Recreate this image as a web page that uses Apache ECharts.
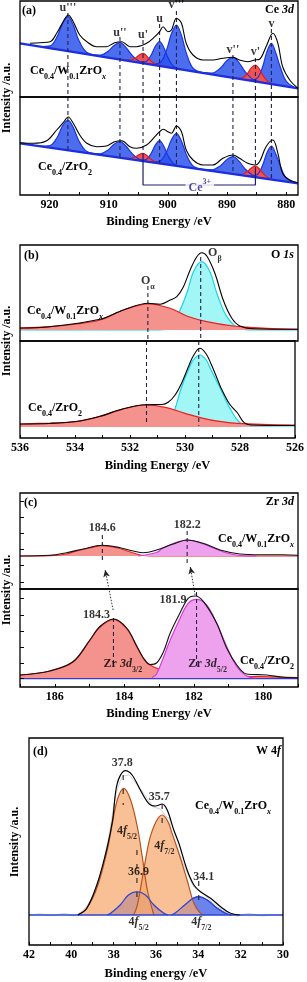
<!DOCTYPE html>
<html><head><meta charset="utf-8">
<script src="https://cdn.jsdelivr.net/npm/echarts@6/dist/echarts.min.js"></script>
<style>html,body{margin:0;padding:0;background:#fff}#c{width:307px;height:982px}</style>
</head><body><div id="c"></div>
<script>
// ---------------- DATA ----------------
// Panel (a) Ce 3d : peak positions / names
const aPeakE = [916.9, 908.1, 904.2, 901.4, 898.55, 889.0, 885.2, 882.5];
const aPeakNames = ["u'''", "u''", "u'", "u", "v'''", "v''", "v'", "v"];
const aPeakLabelI = [89, 64, 62, 78, 92, 47, 45, 73];
const aDashTopStart = [84, 60, 57, 73, 86, 42, 39, 68];
const aDashBotEnd = [44.8, 37.3, 42, 31.6, 29.2, 21.1, 26, 15.5];
const aTicks = [880, 885, 890, 895, 900, 905, 910, 915, 920];
const aLabels = [880, 890, 900, 910, 920];
// top sample Ce0.4/W0.1ZrOx
const aTopBase = [[925, 53.7], [878, 8.7]];
const aTopEnv = [[923.3,53.7],[921.6,54.3],[919.9,55.3],[918.8,63.7],[917.7,75.3],[916.85,82],[916.0,75.3],[914.9,62],[913.7,55.3],[912.05,50.3],[910.4,50.3],[909.0,54.3],[907.8,55.3],[906.4,50.3],[905.3,50.3],[903.6,53.7],[902.2,60.3],[901.4,65.3],[900.8,70.3],[900.0,65.3],[899.4,67],[898.55,78.7],[897.7,73.7],[896.9,53.7],[895.75,42],[894.05,37],[892.4,37],[890.7,38.7],[889.0,39.7],[887.9,37],[886.5,35.3],[885.3,37],[884.5,37.7],[883.4,50.3],[882.25,63.7],[881.4,53.7],[880.6,30.3],[879.4,17],[878,8.7]];
const aTopU3 = [[921.7,50.5],[919.9,51.2],[918.7,60.7],[917.8,73.6],[916.9,80.3],[916.0,71.9],[915.1,57.3],[913.9,45.5],[912.1,41.3]];
const aTopU2 = [[913.4,42.6],[911.4,41.9],[910.1,45.8],[909.1,51.6],[908.1,54.3],[907.1,49.65],[906.1,42.0],[904.8,35.55],[902.8,32.4]];
const aTopU1 = [[909,38.4],[907.7,37.5],[906.4,36.9],[905.5,38.8],[904.85,42.1],[904.2,43.7],[903.55,40.85],[902.9,36.3],[902.0,32.7],[900.7,30.8],[899.0,28.8]];
const aTopU = [[905.2,34.7],[903.8,35.1],[902.85,41.7],[902.12,50.7],[901.4,55.3],[900.68,49.3],[899.95,38.9],[899.0,30.5],[897.6,27.5]];
const aTopV3 = [[903.05,32.7],[901.35,34.15],[900.25,46.6],[899.4,63.2],[898.55,72],[897.7,61.55],[896.85,43.35],[895.75,28.8],[894.05,24.1]];
const aTopV2 = [[894.6,24.6],[892.5,24.0],[891.1,29.0],[890.05,36.2],[889.0,39.7],[887.95,34.2],[886.9,25.0],[885.5,17.3],[883.4,13.9]];
const aTopV1 = [[888.9,19.1],[887.5,18.9],[886.6,23.1],[885.9,29.1],[885.2,32.0],[884.5,27.7],[883.8,20.45],[882.9,14.5],[881.5,12.05]];
const aTopV = [[886.5,16.8],[885.0,18.2],[884.0,29.95],[883.25,45.4],[882.5,53.7],[881.75,44.0],[881.0,30],[880.0,16],[878.5,9.2]];
// bottom sample Ce0.4/ZrO2
const aBotBase = [[925, 51.7], [878, 11.7]];
const aBotEnv = [[925,52.3],[922.75,51.7],[920.5,54.3],[918.8,65],[917.7,72.3],[916.85,78],[916.0,71.7],[914.9,60],[913.7,51.7],[912.05,48.3],[910.4,49],[909.0,53.3],[907.8,54.3],[906.4,48.3],[905.3,46.7],[903.6,50],[902.2,58.3],[901.4,63.3],[900.8,65.7],[900.0,63.3],[899.4,61.7],[898.55,69],[897.7,63.3],[896.9,45],[895.75,35],[894.05,30],[892.4,30],[890.7,36.7],[889.0,40],[887.9,36.7],[886.5,31.7],[885.3,30],[884.5,33.3],[883.4,48.3],[882.25,55],[881.4,41.7],[880.6,21.7],[879.4,15],[878,12.3]];
const aBotU3 = [[921.7,48.9],[919.9,49.5],[918.7,57.8],[917.8,69.2],[916.9,75.0],[916.0,67.6],[915.1,54.8],[913.9,44.35],[912.1,40.7]];
const aBotU2 = [[913.4,41.8],[911.4,41.2],[910.1,45.1],[909.1,50.7],[908.1,53.3],[907.1,49.0],[906.1,41.7],[904.8,35.6],[902.8,32.8]];
const aBotU1 = [[909,38.1],[907.7,37.3],[906.4,36.7],[905.5,38.0],[904.85,40.55],[904.2,41.7],[903.55,39.45],[902.9,35.8],[902.0,32.9],[900.7,31.3],[899.0,29.6]];
const aBotU = [[905.2,34.85],[903.8,35.25],[902.85,41.45],[902.12,49.9],[901.4,54.3],[900.68,48.7],[899.95,39.0],[899.0,31.2],[897.6,28.4]];
const aBotV3 = [[903.05,33.0],[901.35,33.9],[900.25,43.0],[899.4,55.25],[898.55,61.7],[897.7,53.85],[896.85,40.1],[895.75,29.1],[894.05,25.35]];
const aBotV2 = [[894.6,25.8],[892.5,25.2],[891.1,29.35],[890.05,35.35],[889.0,38.3],[887.95,33.55],[886.9,25.8],[885.5,19.3],[883.4,16.3]];
const aBotV1 = [[888.9,21.0],[887.5,20.6],[886.6,23.3],[885.9,27.1],[885.2,29.0],[884.5,25.95],[883.8,20.95],[882.9,16.65],[881.5,14.7]];
const aBotV = [[886.5,18.95],[885.0,20.0],[884.0,29.5],[883.25,42.3],[882.5,49.0],[881.75,41.0],[881.0,29.35],[880.0,16.8],[878.5,12.1]];
const aCe3Bracket = [[904.2,42],[904.2,10],[885.2,10],[885.2,26]];
const aCe3Label = [894.6, 10];

// Panel (b) O 1s
const bTicks = [526,527,528,529,530,531,532,533,534,535,536];
const bLabels = [526,528,530,532,534,536];
const bPeakE = [531.4, 529.5];
const bDashTopStart = [55, 84];
const bDashBotEnd = [14, 12];
const bOaTop = [[536,13],[534.92,14.3],[533.96,17],[533.12,21],[532.28,31],[531.38,37],[530.6,32.7],[530.0,25],[529.28,19.3],[528.33,15],[527.13,12.7],[526,11.7]];
const bObTop = [[536,11],[531.5,11],[530.72,11.5],[530.36,24.3],[530.0,47.7],[529.76,69.3],[529.46,79.3],[529.17,69.3],[528.92,47.7],[528.56,24.3],[528.09,12.3],[527.6,11],[526,11]];
const bEnvTop = [[536,13],[534.92,14.3],[533.12,21.7],[532.28,31],[531.38,37.7],[530.96,36.7],[530.6,41],[530.36,44.3],[530.12,54.3],[529.88,71],[529.64,84.3],[529.46,88.3],[529.28,85],[528.99,67.7],[528.69,41],[528.38,22.7],[528.09,15],[527.6,12.3],[526,11.7]];
const bOaBot = [[536,14],[534.92,15],[533.96,16.3],[533.12,21.3],[532.28,28.7],[531.44,33],[530.72,30.7],[530.0,24.7],[529.17,18.7],[528.09,14.7],[526,13]];
const bObBot = [[536,12],[531.5,12],[530.84,12.5],[530.48,21.3],[530.12,51.3],[529.88,68],[529.7,78],[529.46,83],[529.23,78],[529.05,68],[528.69,48],[528.33,28],[527.97,14.7],[527.49,12],[526,12]];
const bEnvBot = [[536,14],[534.92,14.5],[533.96,16.5],[533.12,21.5],[532.28,29],[531.44,33.3],[530.84,33.5],[530.6,36],[530.36,43],[530.12,55],[529.88,71],[529.7,82],[529.46,89.7],[529.23,84],[529.05,74],[528.81,58],[528.69,50],[528.38,34],[528.09,25],[527.85,15.3],[527.6,13],[526,12.5]];

// Panel (c) Zr 3d
const cTicks = [179,180,181,182,183,184,185,186,187];
const cLabels = [180,182,184,186];
const cTopYTicks = [7,24,40,56,72,88];
const cBotYTicks = [9,24,40,56,72,89];
const cRedTop = [[187,33],[186.14,33.3],[185.66,35],[185.37,38.2],[185.0,41],[184.63,43.3],[184.25,41.5],[183.93,38.2],[183.74,36],[183.45,33.5],[183.0,33],[179,33]];
const cMagTop = [[183.6,33],[183.07,36.5],[182.88,41],[182.59,45.5],[182.19,49],[181.8,46],[181.44,41],[181.1,36.5],[180.67,33.5],[180.2,33]];
const cEnvTop = [[187,33],[186.14,33.7],[185.66,36.3],[185.18,40],[184.63,43.7],[184.12,41.3],[183.74,38],[183.45,36.3],[183.07,39],[182.59,45],[182.19,49],[181.73,45.7],[181.24,39],[180.67,35],[180.09,34.3],[179.42,34.3],[179,33.7]];
const cRedBot = [[187,12],[186.14,16],[185.47,25],[184.99,46.7],[184.7,60],[184.31,67.7],[183.93,58.3],[183.64,40.3],[183.45,28.7],[183.26,22],[182.97,17.7],[182.59,15.3],[181.82,12.7],[180.38,10.7],[179,9.5]];
const cMagBot = [[183.2,9.5],[183.07,13],[182.68,46.7],[182.4,68.3],[182.16,83.7],[181.92,87.7],[181.63,82],[181.34,63.7],[181.05,40.3],[180.76,20.3],[180.48,11],[180.2,9]];
const cEnvBot = [[187,12],[186.14,16],[185.47,25.5],[184.99,47],[184.7,60.5],[184.31,68],[183.93,59],[183.64,41],[183.45,29],[183.26,22.5],[183.07,24],[182.87,35.3],[182.68,53.7],[182.4,73.7],[182.16,88.7],[181.96,91],[181.72,85.3],[181.34,63.7],[181.05,38.7],[180.76,22],[180.48,13],[179.9,12],[179.42,9.7],[179,9.3]];
const cBotBase = [[187,8.3],[179,8.3]];
const cTopDash = [[184.63, 54, 26], [182.19, 58, 26]];
const cBotDash = [[184.31, 69, 20], [181.92, 95, 20]];
const cArrow1 = [[184.32, -21], [184.55, 19]];
const cArrow2 = [[181.96, -6], [182.1, 22]];

// Panel (d) W 4f
const dTicks = [30,31,32,33,34,35,36,37,38,39,40,41,42];
const dLabels = [30,32,34,36,38,40,42];
const dBase = [[42,30],[30,30]];
const dOr52 = [[39.7,30],[39.27,36.7],[38.77,58.3],[38.3,95],[38.1,117],[37.83,145],[37.52,156.7],[37.2,145],[36.88,118],[36.65,88.3],[36.41,55],[36.1,30]];
const dOr72 = [[37.06,30],[36.9,38.3],[36.66,65],[36.44,91.7],[36.27,108.3],[35.98,124],[35.71,130],[35.45,124],[35.24,111.7],[34.92,91.7],[34.53,65],[34.21,41.7],[33.9,31.7],[33.7,30]];
const dBl52 = [[38.3,30],[38.14,31.7],[37.69,40],[37.3,50],[36.9,53.3],[36.5,50],[36.1,40],[35.63,31.7],[35.45,30]];
const dBl72 = [[35.27,30],[35.11,31.7],[34.64,40],[34.25,46.7],[34.0,48.3],[33.58,45],[33.11,36.7],[32.64,31],[32.43,30]];
const dEnv = [[39.69,30],[39.27,36.7],[38.77,61.7],[38.3,98.3],[38.05,125],[37.83,161.7],[37.45,174.3],[37.13,170],[36.74,155],[36.35,141.7],[36.03,139],[35.71,141],[35.47,135],[35.16,115],[34.92,101.7],[34.53,75],[34.21,60],[33.9,53.3],[33.42,46.7],[32.95,38.3],[32.48,31.7],[32.05,30]];
const dRaw = [[42,30],[41.5,31],[41.0,29.5],[40.3,31.5],[39.9,29],[39.55,33],[39.3,38],[38.9,52],[38.5,80],[38.2,112],[37.9,150],[37.6,168],[37.3,170],[37.0,163],[36.7,155],[36.4,146],[36.1,138],[35.8,136],[35.5,128],[35.35,126],[35.3,105],[35.0,96],[34.6,76],[34.2,58],[33.8,52],[33.4,44],[33.0,37],[32.6,32],[32.2,29],[31.6,31.5],[31.0,29],[30.4,30.5],[30,30]];
const dMarks = [[37.55,170,140],[35.71,141,120],[36.9,95,40],[33.98,64,36]];

// ---------------- STYLE / LAYOUT ----------------
const SERIF = "'Liberation Serif','Times New Roman',serif";
function st(o){ return Object.assign({fontFamily:SERIF, fontWeight:'bold', fontSize:12, color:'#000', fill:'#000', lineHeight:14, verticalAlign:'top'}, o); }
const rich = {
  b: st({}), i: st({fontStyle:'italic'}),
  s: st({fontSize:8, lineHeight:8, padding:[8,0,0,0]}),
  si: st({fontSize:8, lineHeight:8, padding:[8,0,0,0], fontStyle:'italic'}),
  bb: st({padding:[4,0,0,0]}),
  sup: st({fontSize:8, lineHeight:8}),
  cb: st({padding:[4,0,0,0], color:'#1c1c8c', fill:'#1c1c8c', fontSize:12}),
  csup: st({fontSize:8, lineHeight:8, color:'#1c1c8c', fill:'#1c1c8c'})
};
const sampleW = '{b|Ce}{s|0.4}{b|/W}{s|0.1}{b|ZrO}{si|x}';
const sampleZ = '{b|Ce}{s|0.4}{b|/ZrO}{s|2}';

const grids = [
  {left:20, top:1, width:278, height:96},
  {left:20, top:97, width:278, height:98},
  {left:20, top:245, width:278, height:96},
  {left:20, top:341, width:278, height:97},
  {left:20, top:493, width:278, height:96},
  {left:20, top:589, width:278, height:98},
  {left:29, top:738, width:254, height:207}
];
const xCfg = [
  {min:878, max:925}, {min:878, max:925, ticks:aTicks, labels:aLabels, name:'Binding Energy /eV', gap:20},
  {min:526, max:536}, {min:526, max:536, ticks:bTicks, labels:bLabels, name:'Binding Energy /eV', gap:21},
  {min:179, max:187}, {min:179, max:187, ticks:cTicks, labels:cLabels, name:'Binding Energy /eV', gap:20},
  {min:30, max:42, ticks:dTicks, labels:dLabels, name:'Binding energy /eV', gap:22}
];
const yTicksCfg = [null, null, null, null, cTopYTicks, cBotYTicks, null];

const xAxis = xCfg.map((c, i) => ({
  type:'value', gridIndex:i, inverse:true, min:c.min, max:c.max, z:10,
  axisLine:{show:false}, splitLine:{show:false},
  axisTick: c.ticks ? {show:true, inside:true, length:3, customValues:c.ticks, lineStyle:{color:'#000', width:1}} : {show:false},
  axisLabel: c.labels ? {show:true, customValues:c.labels, margin:4, fontFamily:SERIF, fontWeight:'bold', fontSize:12, color:'#000'} : {show:false},
  name: c.name || '', nameLocation:'middle', nameGap:c.gap || 0,
  nameTextStyle:{fontFamily:SERIF, fontWeight:'bold', fontSize:12.5, color:'#000'}
}));
const yAxis = grids.map((g, i) => ({
  type:'value', gridIndex:i, min:0, max:g.height, z:10,
  axisLine:{show:false}, splitLine:{show:false}, axisLabel:{show:false},
  axisTick: yTicksCfg[i] ? {show:true, inside:true, length:4, customValues:yTicksCfg[i], lineStyle:{color:'#000'}} : {show:false}
}));

function line(gi, data, color, width, extra){
  return Object.assign({type:'line', xAxisIndex:gi, yAxisIndex:gi, data:data, symbol:'none', smooth:0.35,
    silent:true, animation:false, lineStyle:{color:color, width:width}, z:6}, extra || {});
}
function area(gi, data, lc, fill, origin, z){
  return line(gi, data, lc, 1.2, {areaStyle:{color:fill, opacity:1, origin:origin}, z:z});
}
function dash(gi, e, y1, y2, color, type, z){
  return line(gi, [[e,y1],[e,y2]], color || '#22224a', 1.1, {smooth:false, lineStyle:{color:color || '#22224a', width:1.1, type:type || [4,3]}, z:z || 5});
}
function labels(gi, items){
  return {type:'scatter', xAxisIndex:gi, yAxisIndex:gi, symbolSize:1, itemStyle:{color:'rgba(0,0,0,0)'}, silent:true, animation:false, z:8,
    data: items.map(t => ({value:[t[0], t[1]], label:Object.assign({show:true, formatter:t[2], position:'inside', align:'center', verticalAlign:'middle',
      rich:rich, fontFamily:SERIF, fontWeight:'bold', fontSize:12, color:'#000'}, t[3] || {})}))};
}

const BLUE_F = 'rgba(45,85,235,0.85)', BLUE_L = '#1a35e0';
const RED_F = '#f05252', RED_L = '#e01c1c';
const BASE_B = '#1b2fe0';
const SALMON_F = '#f4928e', SALMON_L = '#ee1e1e';
const CYAN_F = '#a2f6f6', CYAN_L = '#14d6e6';
const MAG_F = '#eea2ee', MAG_L = '#d43cd4';

const series = [];
// ---- panel (a)
[[0, [aTopU3,aTopU2,aTopU,aTopV3,aTopV2,aTopV], [aTopU1,aTopV1], aTopBase, aTopEnv],
 [1, [aBotU3,aBotU2,aBotU,aBotV3,aBotV2,aBotV], [aBotU1,aBotV1], aBotBase, aBotEnv]].forEach(p => {
  const gi = p[0];
  p[1].forEach(d => series.push(area(gi, d, BLUE_L, BLUE_F, 'start', 2)));
  p[2].forEach(d => series.push(area(gi, d, RED_L, RED_F, 'start', 2)));
  series.push(line(gi, p[3], 'rgba(0,0,0,0)', 0, {smooth:false, areaStyle:{color:'#fff', opacity:1, origin:'start'}, z:3}));
  series.push(line(gi, p[3], BASE_B, 2.2, {smooth:false, z:4}));
  series.push(line(gi, p[4], '#000', 1.1, {z:6}));
});
aPeakE.forEach((e, k) => {
  series.push(dash(0, e, aDashTopStart[k], 0));
  series.push(dash(1, e, 98, aDashBotEnd[k]));
});
series.push(line(1, aCe3Bracket, '#1c1c6c', 1.2, {smooth:false, z:5}));
series.push(labels(0, aPeakE.map((e, k) => [e, aPeakLabelI[k], aPeakNames[k]])));
series.push(labels(1, [[aCe3Label[0], aCe3Label[1], '{cb|Ce}{csup|3+}', {backgroundColor:'#fff', padding:[0,3,0,3]}]]));

// ---- panel (b)
[[2, bObTop, bOaTop, bEnvTop], [3, bObBot, bOaBot, bEnvBot]].forEach(p => {
  series.push(area(p[0], p[1], CYAN_L, CYAN_F, 11, 2));
  series.push(area(p[0], p[2], SALMON_L, SALMON_F, 11, 3));
  series.push(line(p[0], p[3], '#000', 1.1, {z:6}));
});
bPeakE.forEach((e, k) => {
  series.push(dash(2, e, bDashTopStart[k], 0));
  series.push(dash(3, e, 97, bDashBotEnd[k]));
});
series.push(labels(2, [[531.4, 59, '{b|O}{s|α}'], [528.99, 87, '{b|O}{s|β}']]));

// ---- panel (c)
series.push(area(4, cRedTop, SALMON_L, SALMON_F, 33, 2));
series.push(area(4, cMagTop, MAG_L, MAG_F, 33, 3));
series.push(line(4, cEnvTop, '#111', 1.1, {z:6}));
series.push(line(5, cBotBase, '#3a3ad0', 1.2, {smooth:false, z:2}));
series.push(area(5, cRedBot, SALMON_L, SALMON_F, 9, 2));
series.push(area(5, cMagBot, MAG_L, MAG_F, 9, 3));
series.push(line(5, cEnvBot, '#111', 1.1, {z:6}));
cTopDash.forEach(d => series.push(dash(4, d[0], d[1], d[2])));
cBotDash.forEach(d => series.push(dash(5, d[0], d[1], d[2])));
[cArrow1, cArrow2].forEach(a => {
  series.push(line(4, [a[0], {value:a[1], symbol:'arrow', symbolSize:[5,7], symbolRotate:12}], '#333', 1,
    {smooth:false, showSymbol:true, clip:false, itemStyle:{color:'#222'}, lineStyle:{color:'#333', width:1, type:[1.5,1.5]}, z:7}));
});
series.push(labels(4, [[184.63, 61, '184.6'], [182.19, 64, '182.2']]));
series.push(labels(5, [[184.8, 72, '184.3'], [182.6, 87, '181.9'], [184.04, 22, '{b|Zr }{i|3d}{s|3/2}'], [181.6, 22, '{b|Zr }{i|3d}{s|5/2}']]));

// ---- panel (d)
series.push(line(6, dRaw, '#cfcfcf', 1, {smooth:0.2, z:1}));
series.push(area(6, dBl52, '#2a45d8', 'rgba(60,90,230,0.75)', 30, 2));
series.push(area(6, dBl72, '#2a45d8', 'rgba(60,90,230,0.75)', 30, 2));
series.push(area(6, dOr52, '#b8541e', 'rgba(247,168,108,0.72)', 30, 3));
series.push(area(6, dOr72, '#b8541e', 'rgba(247,168,108,0.72)', 30, 3));
series.push(line(6, dBl52, '#2a45d8', 1.1, {z:4}));
series.push(line(6, dBl72, '#2a45d8', 1.1, {z:4}));
series.push(line(6, dBase, '#2a45d8', 1.6, {smooth:false, z:4}));
series.push(line(6, dEnv, '#000', 1.2, {z:6}));
dMarks.forEach(m => series.push(dash(6, m[0], m[1], m[2], '#222', [5,9], 7)));
series.push(labels(6, [[37.6, 182, '37.8'], [35.85, 148, '35.7'], [36.83, 73, '36.9'], [33.75, 68, '34.1'],
  [37.37, 113, '{b|4}{i|f}{s|5/2}'], [35.6, 98, '{b|4}{i|f}{s|7/2}'], [36.82, 22, '{b|4}{i|f}{s|5/2}'], [33.86, 22, '{b|4}{i|f}{s|7/2}']]));

// ---- free text (layout)
function gText(x, y, text, align, extra){
  return Object.assign({type:'text', x:x, y:y, z:100, silent:true,
    style:{text:text, rich:rich, fontFamily:SERIF, fontWeight:'bold', fontSize:12, fill:'#000',
      align:align || 'left', verticalAlign:'middle', textAlign:align || 'left', textVerticalAlign:'middle'}}, extra || {});
}
const ROT = {rotation: Math.PI / 2};
const graphic = [
  gText(22, 11, '(a)'), gText(294, 11, '{b|Ce }{i|3d}', 'right'),
  gText(30, 72, sampleW), gText(38, 168, sampleZ),
  gText(7, 98, 'Intensity /a.u.', 'center', ROT),
  gText(24, 256, '(b)'), gText(294, 256, '{b|O }{i|1s}', 'right'),
  gText(27, 312, sampleW), gText(28, 409, sampleZ),
  gText(7, 341, 'Intensity /a.u.', 'center', ROT),
  gText(24, 503, '(c)'), gText(294, 503, '{b|Zr }{i|3d}', 'right'),
  gText(294, 540, sampleW, 'right'), gText(294, 662, sampleZ, 'right'),
  gText(7, 590, 'Intensity /a.u.', 'center', ROT),
  gText(33, 752, '(d)'), gText(281, 752, '{b|W 4}{i|f}', 'right'),
  gText(195, 807, sampleW),
  gText(15, 842, 'Intensity /a.u.', 'center', ROT)
];

const chart = echarts.init(document.getElementById('c'), null, {renderer:'canvas'});
chart.setOption({
  animation:false, backgroundColor:'#fff',
  grid: grids.map(g => Object.assign({show:true, borderColor:'#000', borderWidth:1.3, backgroundColor:'rgba(0,0,0,0)', z:10}, g)),
  xAxis: xAxis, yAxis: yAxis, series: series, graphic: graphic
});
</script></body></html>
